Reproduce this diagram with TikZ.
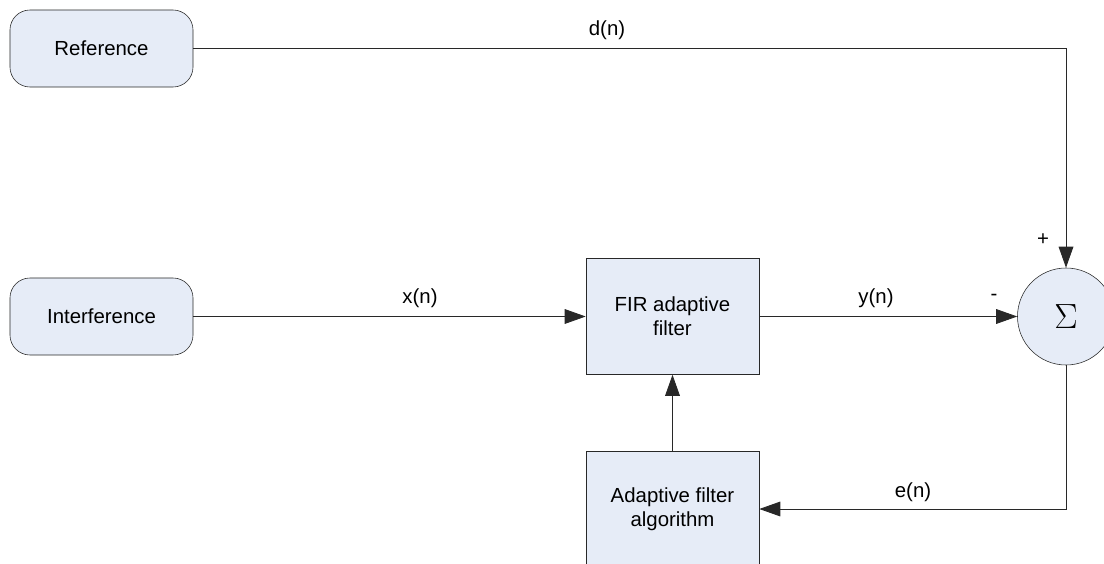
\documentclass[tikz,border=0pt]{standalone}
\usepackage{fontspec}
\setmainfont{Liberation Sans}
\usetikzlibrary{arrows.meta}

\definecolor{boxfill}{RGB}{230,236,247}
\definecolor{edge}{RGB}{40,40,40}

\begin{document}
\begin{tikzpicture}[x=0.025cm, y=-0.025cm,
  every node/.style={font=\fontsize{14.5}{17}\selectfont},
  srcbox/.style={draw=edge, fill=boxfill, rounded corners=0.5cm, minimum width=4.575cm, minimum height=1.925cm, thin},
  blockbox/.style={draw=edge, fill=boxfill, minimum width=4.325cm, minimum height=2.9cm, align=center, thin},
  sumnode/.style={draw=edge, fill=boxfill, circle, minimum size=2.425cm, inner sep=0pt},
  sig/.style={draw=edge, line width=0.6pt, -{Triangle[length=15pt,width=10.5pt]}}]
\useasboundingbox (0,0) rectangle (1104,564);
% sources
\node [srcbox] (ref) at (101.5,48.5) {Reference};
\node [srcbox] (intf) at (101.5,316.5) {Interference};
% filter and update
\node [blockbox] (fir) at (672.5,316.5) {FIR adaptive\\filter};
\node [blockbox] (algo) at (672.5,509) {Adaptive filter\\algorithm};
\node [sumnode] (sum) at (1066,316.5) {\fontsize{26}{28}\selectfont$\Sigma$};
% signal paths
\draw [sig] (ref.east) -| (sum.north);
\draw [sig] (intf.east) -- (fir.west);
\draw [sig] (fir.east) -- (sum.west);
\draw [sig] (algo.north) -- (fir.south);
\coordinate (ecorner) at (sum.south |- algo.east);
\draw [sig] (sum.south) -- (ecorner) -- (algo.east);
% labels
\node (dlab) at (607,30) {d(n)};
\node (xlab) at (420,298) {x(n)};
\node (ylab) at (876,298) {y(n)};
\node (elab) at (913,492) {e(n)};
\node (plus) at (1043,240) {+};
\node (minus) at (994,297) {-};
\end{tikzpicture}
\end{document}
